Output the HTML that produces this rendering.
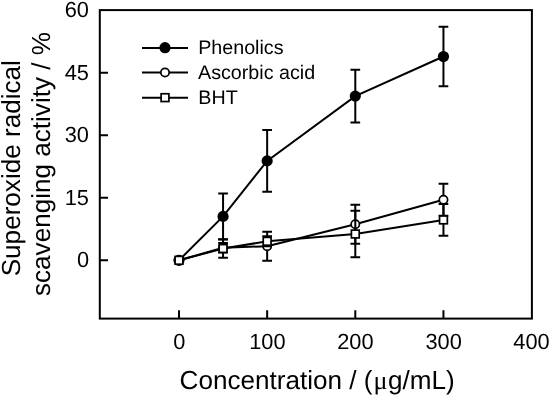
<!DOCTYPE html>
<html><head><meta charset="utf-8"><style>
html,body{margin:0;padding:0;background:#fff;width:550px;height:396px;overflow:hidden}
svg{display:block;filter:grayscale(1)}
text{font-family:"Liberation Sans",sans-serif;fill:#000;text-rendering:geometricPrecision}
</style></head><body>
<svg width="550" height="396" viewBox="0 0 550 396">
<g fill="none" stroke="#000" stroke-width="2.0">
<rect x="99.8" y="10.1" width="432.1" height="308.5"/>
<path d="M99.8 72.65H108M99.8 135.2H108M99.8 197.75H108M99.8 260.3H108"/>
<path d="M179 318.6V310.3M267.15 318.6V310.3M355.3 318.6V310.3M443.45 318.6V310.3"/>
</g>
<g font-size="21.8" text-anchor="end">
<text x="89" y="17.2">60</text>
<text x="89" y="79.75">45</text>
<text x="89" y="142.3">30</text>
<text x="89" y="204.85">15</text>
<text x="89" y="267.4">0</text>
</g>
<g font-size="21.8" text-anchor="middle">
<text x="179.2" y="348.7">0</text>
<text x="267.4" y="348.7">100</text>
<text x="355.4" y="348.7">200</text>
<text x="443.6" y="348.7">300</text>
<text x="531.5" y="348.7">400</text>
</g>
<text x="179.6" y="389.2" font-size="26.1">Concentration / (<tspan font-family="Liberation Serif" dx="1">μ</tspan><tspan dx="0.5">g/mL)</tspan></text>
<g font-size="26.1">
<text transform="translate(20 276.3) rotate(-90)">Superoxide radical</text>
<text transform="translate(49.7 296) rotate(-90)">scavenging activity / %</text>
</g>
<g fill="none" stroke="#000" stroke-width="2.0"><polyline points="179,260.3 223.07,216.4 267.15,160.9 355.3,96.1 443.45,56.5"/><path d="M223.07 193.4V239.4M218.22 193.4H227.92M218.22 239.4H227.92M267.15 130V191.8M262.3 130H272M262.3 191.8H272M355.3 69.7V122.5M350.45 69.7H360.15M350.45 122.5H360.15M443.45 26.7V86.3M438.6 26.7H448.3M438.6 86.3H448.3"/></g>
<g fill="#000"><circle cx="179" cy="260.3" r="5.6"/><circle cx="223.07" cy="216.4" r="5.6"/><circle cx="267.15" cy="160.9" r="5.6"/><circle cx="355.3" cy="96.1" r="5.6"/><circle cx="443.45" cy="56.5" r="5.6"/></g>
<g fill="none" stroke="#000" stroke-width="2.0"><polyline points="179,260.3 223.07,247.8 267.15,246.2 355.3,224.2 443.45,199.8"/><path d="M223.07 243V252.6M218.22 243H227.92M218.22 252.6H227.92M267.15 231.7V260.7M262.3 231.7H272M262.3 260.7H272M355.3 204.7V243.7M350.45 204.7H360.15M350.45 243.7H360.15M443.45 183.8V215.8M438.6 183.8H448.3M438.6 215.8H448.3"/></g>
<g fill="#fff" stroke="#000" stroke-width="1.7"><circle cx="179" cy="260.3" r="4.15"/><circle cx="223.07" cy="247.8" r="4.15"/><circle cx="267.15" cy="246.2" r="4.15"/><circle cx="355.3" cy="224.2" r="4.15"/><circle cx="443.45" cy="199.8" r="4.15"/></g>
<g fill="none" stroke="#000" stroke-width="2.0"><polyline points="179,260.3 223.07,248.5 267.15,241.3 355.3,234 443.45,219.9"/><path d="M223.07 239.3V257.7M218.22 239.3H227.92M218.22 257.7H227.92M267.15 236.3V246.3M262.3 236.3H272M262.3 246.3H272M355.3 210.8V257.2M350.45 210.8H360.15M350.45 257.2H360.15M443.45 204.1V235.7M438.6 204.1H448.3M438.6 235.7H448.3"/></g>
<g fill="#fff" stroke="#000" stroke-width="1.7"><rect x="175.1" y="256.4" width="7.8" height="7.8"/><rect x="219.17" y="244.6" width="7.8" height="7.8"/><rect x="263.25" y="237.4" width="7.8" height="7.8"/><rect x="351.4" y="230.1" width="7.8" height="7.8"/><rect x="439.55" y="216" width="7.8" height="7.8"/></g>
<path d="M142 48H188M142 72.6H188M142 97.7H188" fill="none" stroke="#000" stroke-width="2.0"/>
<circle cx="165.0" cy="47.7" r="5.6" fill="#000"/>
<circle cx="165.0" cy="72.5" r="4.15" fill="#fff" stroke="#000" stroke-width="1.7"/>
<rect x="161.1" y="93.75" width="7.8" height="7.8" fill="#fff" stroke="#000" stroke-width="1.7"/>
<g font-size="19.7">
<text x="198.2" y="54.2">Phenolics</text>
<text x="198" y="79.3">Ascorbic acid</text>
<text x="198.3" y="104.1">BHT</text>
</g>
</svg>
</body></html>
